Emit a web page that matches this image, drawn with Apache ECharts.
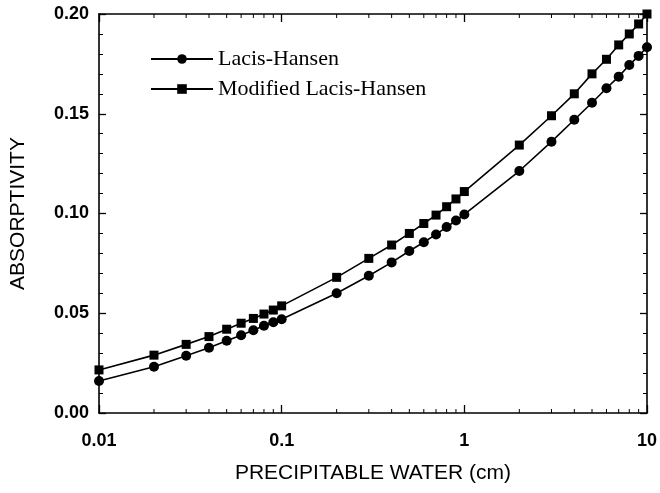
<!DOCTYPE html>
<html>
<head>
<meta charset="utf-8">
<script src="https://cdn.jsdelivr.net/npm/echarts@6/dist/echarts.min.js"></script>
<style>
html,body{margin:0;padding:0;background:#fff;}
#c{width:660px;height:493px;}
</style>
</head>
<body>
<div id="c"></div>
<script>
const xValues = [0.01,0.02,0.03,0.04,0.05,0.06,0.07,0.08,0.09,0.1,0.2,0.3,0.4,0.5,0.6,0.7,0.8,0.9,1,2,3,4,5,6,7,8,9,10];
const lacisHansen = [0.016,0.0232,0.0287,0.0327,0.0362,0.039,0.0415,0.0437,0.0455,0.047,0.060,0.0688,0.0755,0.0812,0.0856,0.0895,0.0932,0.0965,0.0995,0.1213,0.136,0.147,0.1555,0.1628,0.1686,0.1744,0.179,0.1833];
const modifiedLacisHansen = [0.0216,0.029,0.0344,0.0383,0.042,0.045,0.0474,0.0496,0.0516,0.0537,0.068,0.0775,0.0842,0.090,0.095,0.0992,0.1034,0.1073,0.111,0.1343,0.149,0.160,0.170,0.1773,0.1845,0.190,0.195,0.200];
const seriesNames = ['Lacis-Hansen','Modified Lacis-Hansen'];
const xMinorTicks = [0.02,0.03,0.04,0.05,0.06,0.07,0.08,0.09,0.2,0.3,0.4,0.5,0.6,0.7,0.8,0.9,2,3,4,5,6,7,8,9];
const xTickLabels = {0.01:'0.01',0.1:'0.1',1:'1',10:'10'};

const chart = echarts.init(document.getElementById('c'), null, {renderer:'canvas'});
const pair = (arr) => xValues.map((x,i)=>[x,arr[i]]);
const tickData = xMinorTicks.map(v=>[v,0,-1]).concat(xMinorTicks.map(v=>[v,0.2,1]));

const axisLine = {show:true, onZero:false, lineStyle:{color:'#000', width:1.6}};
const labelFont = {color:'#000', fontFamily:'Liberation Sans, Arial, sans-serif', fontSize:18, fontWeight:'bold'};

chart.setOption({
  animation:false,
  backgroundColor:'#fff',
  grid:{left:99, right:10, top:14, bottom:80, containLabel:false},
  legend:{
    show:true, left:150, top:48, orient:'vertical', padding:0,
    itemWidth:62, itemHeight:12, itemGap:8,
    data:seriesNames,
    textStyle:{fontFamily:'Liberation Serif, Times New Roman, serif', fontSize:22, color:'#000'}
  },
  xAxis:[{
    type:'log', logBase:10, min:0.01, max:10, position:'bottom',
    name:'PRECIPITABLE WATER (cm)', nameLocation:'middle', nameGap:50,
    nameTextStyle:{color:'#000', fontFamily:'Liberation Sans, Arial, sans-serif', fontSize:21},
    axisLine:axisLine,
    axisTick:{show:true, inside:true, length:8, lineStyle:{color:'#000', width:1.3}},
    minorTick:{show:false},
    splitLine:{show:false},
    axisLabel:Object.assign({margin:19, formatter:(v)=>xTickLabels[v] !== undefined ? xTickLabels[v] : String(v)}, labelFont)
  },{
    type:'log', logBase:10, min:0.01, max:10, position:'top',
    axisLine:axisLine,
    axisTick:{show:true, inside:true, length:8, lineStyle:{color:'#000', width:1.3}},
    axisLabel:{show:false}, splitLine:{show:false}
  }],
  yAxis:[{
    type:'value', min:0, max:0.2, interval:0.05, position:'left',
    name:'ABSORPTIVITY', nameLocation:'middle', nameGap:70,
    nameTextStyle:{color:'#000', fontFamily:'Liberation Sans, Arial, sans-serif', fontSize:21},
    axisLine:axisLine,
    axisTick:{show:true, inside:true, length:7, lineStyle:{color:'#000', width:1.3}},
    minorTick:{show:true, splitNumber:5, length:4, lineStyle:{color:'#000', width:1}},
    splitLine:{show:false},
    axisLabel:Object.assign({margin:10, formatter:(v)=>v.toFixed(2)}, labelFont)
  },{
    type:'value', min:0, max:0.2, interval:0.05, position:'right',
    axisLine:axisLine,
    axisTick:{show:true, inside:true, length:7, lineStyle:{color:'#000', width:1.3}},
    minorTick:{show:true, splitNumber:5, length:4, lineStyle:{color:'#000', width:1}},
    splitLine:{show:false},
    axisLabel:{show:false}
  }],
  series:[{
    name:seriesNames[0], type:'line', data:pair(lacisHansen),
    symbol:'circle', symbolSize:10, showAllSymbol:true,
    lineStyle:{color:'#000', width:1.6}, itemStyle:{color:'#000'}
  },{
    name:seriesNames[1], type:'line', data:pair(modifiedLacisHansen),
    symbol:'rect', symbolSize:9, showAllSymbol:true,
    lineStyle:{color:'#000', width:1.6}, itemStyle:{color:'#000'}
  },{
    name:'minorTicks', type:'custom', silent:true, clip:false,
    data:tickData,
    renderItem:(params, api)=>{
      const p = api.coord([api.value(0), api.value(1)]);
      const dir = api.value(2);
      return {type:'line', shape:{x1:p[0], y1:p[1], x2:p[0], y2:p[1] + dir*4}, style:{stroke:'#000', lineWidth:1}};
    }
  }]
});
</script>
</body>
</html>
